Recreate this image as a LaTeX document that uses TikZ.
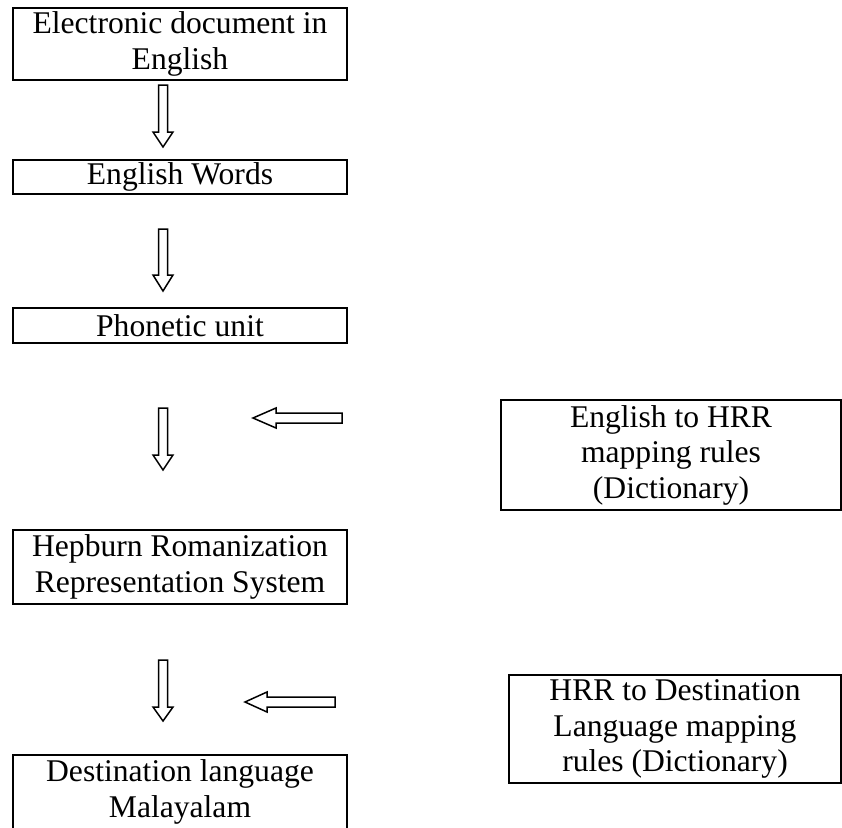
\documentclass[tikz,border=0pt]{standalone}
\usepackage{fontspec}
\setmainfont{Liberation Serif}
\usepackage{tikz}
\usetikzlibrary{positioning}

\begin{document}
\begin{tikzpicture}[x=1pt,y=-1pt,
        box/.style={draw,line width=2pt,inner sep=0pt,align=center,font=\fontsize{31.6}{35.5}\selectfont},
        blk/.style={draw,line width=1.5pt,line join=miter}]
        \useasboundingbox (0,0) rectangle (842,827);
        \clip (0,0) rectangle (842,827);

        \node[box,minimum width=334pt,minimum height=72pt] (E) at (180,44) {Electronic document in\\English};
        \node[box,minimum width=334pt,minimum height=34pt] (W) at (180,177) {English Words};
        \node[box,minimum width=334pt,minimum height=35pt] (P) at (180,325.5) {Phonetic unit};
        \node[box,minimum width=334pt,minimum height=74pt] (H) at (180,567) {Hepburn Romanization\\Representation System};
        \node[box,minimum width=334pt,minimum height=74pt] (D) at (180,792) {Destination language\\Malayalam};
        \node[box,minimum width=340pt,minimum height=110pt] (R1) at (671,455) {English to HRR\\mapping rules\\(Dictionary)};
        \node[box,minimum width=332pt,minimum height=108pt] (R2) at (675,729) {HRR to Destination\\Language mapping\\rules (Dictionary)};

        \coordinate (A1) at (158.5,85);
        \coordinate (A2) at (158.5,229);
        \coordinate (A3) at (158.5,408);
        \coordinate (A4) at (158.5,660);
        \coordinate (B1) at (342,413);
        \coordinate (B2) at (335,697);

        \draw[blk] (A1) -- ++(9,0) -- ++(0,47) -- ++(5.5,0) -- ++(-10,15) -- ++(-10,-15) -- ++(5.5,0) -- cycle;
        \draw[blk] (A2) -- ++(9,0) -- ++(0,46) -- ++(5.5,0) -- ++(-10,16) -- ++(-10,-16) -- ++(5.5,0) -- cycle;
        \draw[blk] (A3) -- ++(9,0) -- ++(0,47) -- ++(5.5,0) -- ++(-10,15) -- ++(-10,-15) -- ++(5.5,0) -- cycle;
        \draw[blk] (A4) -- ++(9,0) -- ++(0,47) -- ++(5.5,0) -- ++(-10,14) -- ++(-10,-14) -- ++(5.5,0) -- cycle;
        \draw[blk] (B1) -- ++(-66,0) -- ++(0,-5) -- ++(-23,10) -- ++(23,10) -- ++(0,-5) -- ++(66,0) -- cycle;
        \draw[blk] (B2) -- ++(-68,0) -- ++(0,-5) -- ++(-22,10) -- ++(22,10) -- ++(0,-5) -- ++(68,0) -- cycle;
      \end{tikzpicture}
\end{document}
